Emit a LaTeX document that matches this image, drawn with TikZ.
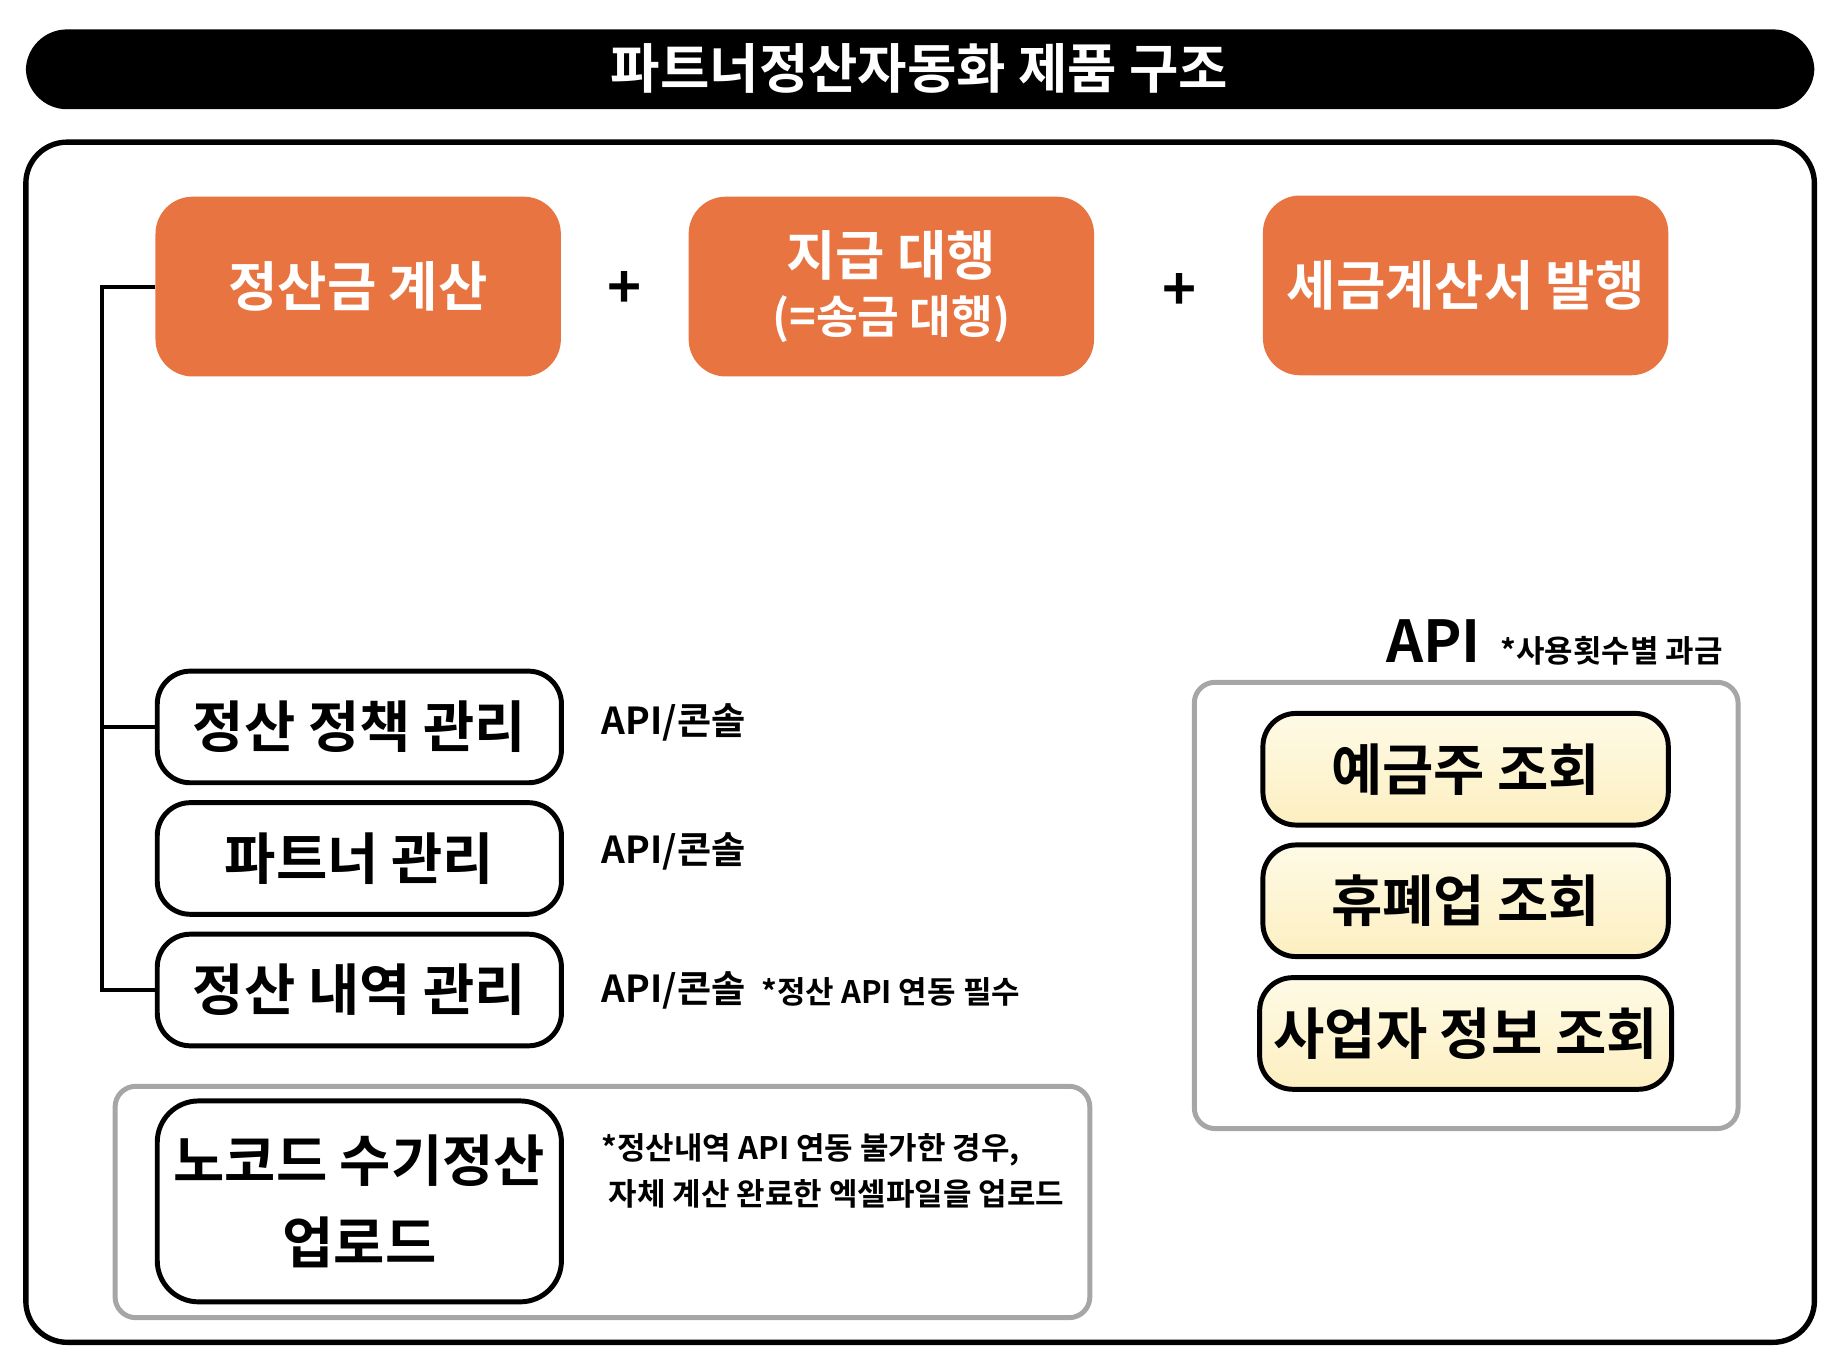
\documentclass[tikz,border=0pt]{standalone}
\usepackage{fontspec}
\setmainfont{Noto Sans CJK KR}[BoldFont=Noto Sans CJK KR Bold]
\usetikzlibrary{positioning}
\definecolor{orangebox}{HTML}{E87442}
\definecolor{yellowtop}{HTML}{FEFAE6}
\definecolor{yellowbot}{HTML}{FCEFC0}
\tikzset{
  orangenode/.style={fill=orangebox, rounded corners=9pt, minimum width=3.45cm, minimum height=1.53cm, text=white, font=\bfseries\fontsize{13}{16}\selectfont, align=center},
  featurenode/.style={draw, line width=1.2pt, rounded corners=8pt, minimum width=3.44cm, minimum height=0.95cm, font=\bfseries\fontsize{13.5}{16}\selectfont, align=center},
  apinode/.style={featurenode, top color=yellowtop, bottom color=yellowbot, minimum width=3.45cm},
  notetext/.style={font=\bfseries\fontsize{9}{11}\selectfont, anchor=west},
  smallnote/.style={font=\bfseries\fontsize{7.5}{9}\selectfont, anchor=west},
  graybox/.style={draw=gray!70, line width=1.2pt, rounded corners=5pt}
}
\begin{document}
\begin{tikzpicture}[x=0.01cm, y=-0.01cm]
\useasboundingbox (0,0) rectangle (1560,1162);

% Title bar
\fill[black, rounded corners=10pt] (22,25) rectangle (1545,93);
\node[text=white, font=\bfseries\fontsize{13}{16}\selectfont] (title) at (783,58) {파트너정산자동화 제품 구조};

% Outer frame
\draw[line width=1.3pt, rounded corners=10pt] (22,121) rectangle (1545,1143);

% Top products
\node[orangenode] (calc) at (305,244) {정산금 계산};
\node[orangenode] (pay) at (759,244) {지급 대행\\[-2pt]{\fontsize{11}{13}\selectfont (=송금 대행)}};
\node[orangenode] (tax) at (1248,243) {세금계산서 발행};
\node[font=\bfseries\fontsize{14}{16}\selectfont] (plusa) at (532,247) {+};
\node[font=\bfseries\fontsize{14}{16}\selectfont] (plusb) at (1004,249) {+};

% Feature boxes
\node[featurenode] (policy) at (306,619) {정산 정책 관리};
\node[featurenode] (partner) at (306,731) {파트너 관리};
\node[featurenode] (history) at (306,843) {정산 내역 관리};

\node[notetext] (notea) at (500,615) {API/콘솔};
\node[notetext] (noteb) at (500,725) {API/콘솔};
\node[notetext] (notec) at (500,843) {API/콘솔};
\node[smallnote] (noted) at (636,845) {*정산 API 연동 필수};

% Connector tree
\coordinate (trunk) at (87,244);
\draw[line width=1pt] (calc.west) -- (trunk) |- (history.west);
\draw[line width=1pt] (trunk |- policy.west) -- (policy.west);

% No-code upload
\draw[graybox] (98,925) rectangle (928,1122);
\node[featurenode, minimum height=1.71cm, rounded corners=10pt] (upload) at (306,1023) {노코드 수기정산\\[4pt]업로드};
\node[smallnote, align=left] (notee) at (500,997) {*정산내역 API 연동 불가한 경우,\\[2pt]\ 자체 계산 완료한 엑셀파일을 업로드};

% API lookups
\node[font=\bfseries\fontsize{14}{16}\selectfont, anchor=base west] (apilabel) at (1168,564) {API};
\node[font=\bfseries\fontsize{7.5}{9}\selectfont, anchor=base west, inner sep=1pt] (apifee) at (apilabel.base east) {*사용횟수별 과금};
\draw[graybox] (1017,581) rectangle (1480,961);
\node[apinode] (holder) at (1248,655) {예금주 조회};
\node[apinode] (closure) at (1248,767) {휴폐업 조회};
\node[apinode] (bizinfo) at (1248,880) {사업자 정보 조회};

\end{tikzpicture}
\end{document}
